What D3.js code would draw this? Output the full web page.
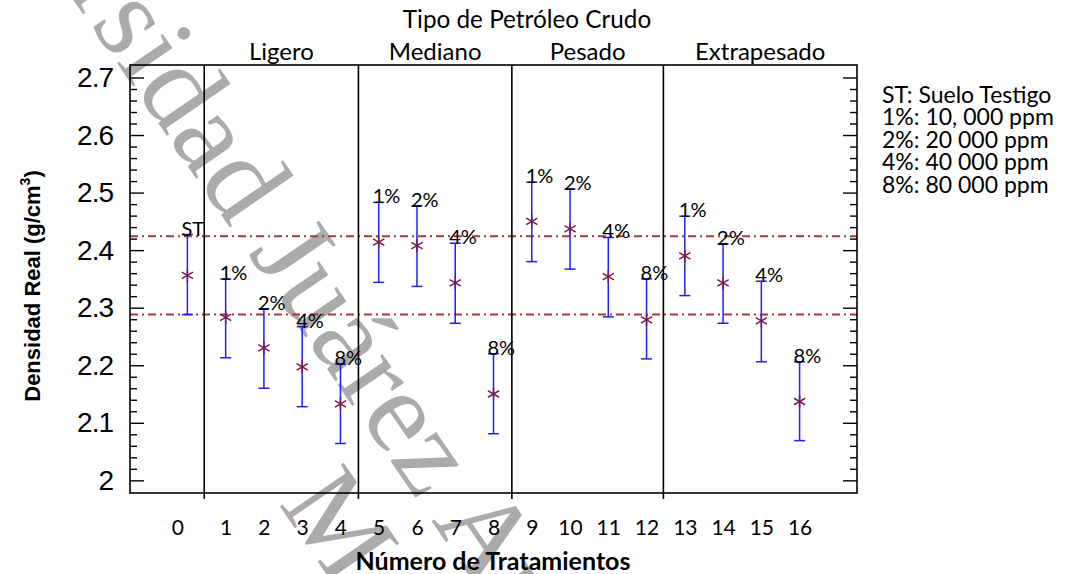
<!DOCTYPE html>
<html>
<head>
<meta charset="utf-8">
<script src="https://cdn.jsdelivr.net/npm/d3@7"></script>
<style>
  body { margin: 0; background: #fff; }
  svg { display: block; }
</style>
</head>
<body>
<svg id="chart" width="1067" height="574"></svg>
<script>
// Treatment numbers (0 = control soil) and real density summary per treatment
const treatments = [0, 1, 2, 3, 4, 5, 6, 7, 8, 9, 10, 11, 12, 13, 14, 15, 16];
const meanDensity  = [2.356, 2.283, 2.230, 2.197, 2.133, 2.414, 2.408, 2.343, 2.150,
                      2.450, 2.437, 2.354, 2.279, 2.390, 2.343, 2.277, 2.137];
const lowerDensity = [2.288, 2.213, 2.160, 2.128, 2.064, 2.344, 2.337, 2.273, 2.081,
                      2.380, 2.367, 2.284, 2.211, 2.321, 2.273, 2.206, 2.069];
const upperDensity = [2.427, 2.350, 2.298, 2.267, 2.202, 2.483, 2.477, 2.412, 2.220,
                      2.518, 2.506, 2.422, 2.350, 2.459, 2.411, 2.346, 2.206];
const doseLabels = ["ST", "1%", "2%", "4%", "8%", "1%", "2%", "4%", "8%",
                    "1%", "2%", "4%", "8%", "1%", "2%", "4%", "8%"];

// Crude oil type panels and the treatment positions that separate them
const crudeTypes = ["Ligero", "Mediano", "Pesado", "Extrapesado"];
const crudeDividers = [0.44, 4.47, 8.48, 12.44];

// Control soil interval limits drawn across the whole plot
const controlLimits = [2.424, 2.288];

const yTickValues = [2.0, 2.1, 2.2, 2.3, 2.4, 2.5, 2.6, 2.7];
const yMinorValues = [2.02, 2.04, 2.06, 2.08, 2.12, 2.14, 2.16, 2.18, 2.22, 2.24, 2.26, 2.28,
                      2.32, 2.34, 2.36, 2.38, 2.42, 2.44, 2.46, 2.48, 2.52, 2.54, 2.56, 2.58,
                      2.62, 2.64, 2.66, 2.68];

const legendLines = ["ST: Suelo Testigo", "1%: 10, 000 ppm", "2%: 20 000 ppm",
                     "4%: 40 000 ppm", "8%: 80 000 ppm"];

const svg = d3.select("#chart");
const frame = { left: 130, right: 857, top: 65, bottom: 493 };
const calibri = "Lato, 'Open Sans', sans-serif";
const arial = "'Liberation Sans', Arial, sans-serif";

const x = d3.scaleLinear().domain([-1.5, 17.5]).range([frame.left, frame.right]);
const y = d3.scaleLinear().domain([1.978, 2.7217]).range([frame.bottom, frame.top]);

svg.append("rect").attr("width", 1067).attr("height", 574).attr("fill", "#fff");

// Institutional watermark behind the chart (diagonal, two lines)
const wmSize = 118;
const wm = svg.append("g").attr("fill", "#ababab")
  .attr("font-family", "'Liberation Serif', 'Times New Roman', serif")
  .attr("font-size", wmSize)
  .attr("transform", "translate(125,27) rotate(55.5)");
const wmWords = "Universidad Juárez Autónoma";
const wmText = wm.append("text").text(wmWords);
const sIndex = wmWords.indexOf("sidad");
const sStart = wmText.node().getSubStringLength(0, sIndex);
const sWidth = wmText.node().getSubStringLength(sIndex, 1);
wmText.attr("x", -(sStart + sWidth / 2)).attr("y", 0.23 * wmSize);
const wmM = wm.append("text").attr("y", 105 + 0.33 * wmSize).text("M");
wmM.attr("x", 532 - wmM.node().getComputedTextLength() / 2);

// Control limits
svg.append("g").selectAll("line").data(controlLimits).join("line")
  .attr("x1", frame.left).attr("x2", frame.right)
  .attr("y1", d => y(d)).attr("y2", d => y(d))
  .attr("stroke", "#a83a3a").attr("stroke-width", 2)
  .attr("stroke-dasharray", "8,4,2,4");

// Panel dividers
svg.append("g").selectAll("line").data(crudeDividers).join("line")
  .attr("x1", d => x(d)).attr("x2", d => x(d))
  .attr("y1", frame.top).attr("y2", frame.bottom + 6)
  .attr("stroke", "#000").attr("stroke-width", 1.6);

// Frame
svg.append("rect")
  .attr("x", frame.left).attr("y", frame.top)
  .attr("width", frame.right - frame.left).attr("height", frame.bottom - frame.top)
  .attr("fill", "none").attr("stroke", "#000").attr("stroke-width", 1.6);

// Y axes: major ticks with labels, minor ticks, mirrored on the right
function styleAxis(g) {
  g.select(".domain").remove();
  g.selectAll(".tick line").attr("stroke", "#000").attr("stroke-width", 1.4);
}
svg.append("g").attr("transform", `translate(${frame.left},0)`)
  .call(d3.axisLeft(y).tickValues(yTickValues).tickSize(-14).tickPadding(17)
    .tickFormat(d3.format("~g")))
  .call(styleAxis)
  .call(g => g.selectAll(".tick text")
    .attr("font-family", arial).attr("font-size", 28)
    .attr("letter-spacing", -1).attr("fill", "#000"));
svg.append("g").attr("transform", `translate(${frame.left},0)`)
  .call(d3.axisLeft(y).tickValues(yMinorValues).tickSize(-7).tickFormat(""))
  .call(styleAxis);
svg.append("g").attr("transform", `translate(${frame.right},0)`)
  .call(d3.axisRight(y).tickValues(yTickValues).tickSize(-14).tickFormat(""))
  .call(styleAxis);
svg.append("g").attr("transform", `translate(${frame.right},0)`)
  .call(d3.axisRight(y).tickValues(yMinorValues).tickSize(-7).tickFormat(""))
  .call(styleAxis);

// X axis labels (treatment numbers)
svg.append("g").attr("transform", `translate(0,${frame.bottom})`)
  .call(d3.axisBottom(x).tickValues(treatments).tickSize(0).tickPadding(27)
    .tickFormat(d3.format("d")))
  .call(g => g.select(".domain").remove())
  .call(g => g.selectAll(".tick text")
    .attr("font-family", calibri).attr("font-size", 21).attr("fill", "#000")
    .attr("dx", d => d === 0 ? -10 : 0));

// Error bars
const bars = svg.append("g").attr("stroke", "#1f1fff").attr("stroke-width", 1.5);
bars.selectAll("line.v").data(treatments).join("line").attr("class", "v")
  .attr("x1", d => x(d)).attr("x2", d => x(d))
  .attr("y1", (d, i) => y(upperDensity[i])).attr("y2", (d, i) => y(lowerDensity[i]));
bars.selectAll("line.cu").data(treatments).join("line").attr("class", "cu")
  .attr("x1", d => x(d) - 5.5).attr("x2", d => x(d) + 5.5)
  .attr("y1", (d, i) => y(upperDensity[i])).attr("y2", (d, i) => y(upperDensity[i]));
bars.selectAll("line.cl").data(treatments).join("line").attr("class", "cl")
  .attr("x1", d => x(d) - 5.5).attr("x2", d => x(d) + 5.5)
  .attr("y1", (d, i) => y(lowerDensity[i])).attr("y2", (d, i) => y(lowerDensity[i]));

// Asterisk markers at the mean
const star = "M0,-6.5L0,6.5M-5.6,-3.25L5.6,3.25M-5.6,3.25L5.6,-3.25";
svg.append("g").selectAll("path").data(treatments).join("path")
  .attr("transform", (d, i) => `translate(${x(d)},${y(meanDensity[i])})`)
  .attr("d", star).attr("stroke", "#7a1a55").attr("stroke-width", 1.5).attr("fill", "none");

// Dose labels above each bar
svg.append("g").selectAll("text").data(treatments).join("text")
  .attr("x", d => x(d) - 6)
  .attr("y", (d, i) => y(upperDensity[i]) + 1)
  .attr("font-family", calibri).attr("font-size", 20).attr("fill", "#000")
  .text((d, i) => doseLabels[i]);

// Panel titles
const panelEdges = [...crudeDividers, 17.5];
svg.append("g").selectAll("text").data(crudeTypes).join("text")
  .attr("x", (d, i) => x((panelEdges[i] + panelEdges[i + 1]) / 2))
  .attr("y", 60)
  .attr("text-anchor", "middle")
  .attr("font-family", calibri).attr("font-size", 24).attr("fill", "#000")
  .text(d => d);

svg.append("text")
  .attr("x", 527).attr("y", 28)
  .attr("text-anchor", "middle")
  .attr("font-family", calibri).attr("font-size", 24.3).attr("fill", "#000")
  .text("Tipo de Petróleo Crudo");

// Axis titles
svg.append("text")
  .attr("x", 493).attr("y", 570)
  .attr("text-anchor", "middle")
  .attr("font-family", calibri).attr("font-weight", "bold").attr("font-size", 25).attr("fill", "#000")
  .text("Número de Tratamientos");

const yTitle = svg.append("text")
  .attr("transform", "translate(40,286) rotate(-90)")
  .attr("text-anchor", "middle")
  .attr("font-family", arial).attr("font-weight", "bold").attr("font-size", 22).attr("fill", "#000");
yTitle.append("tspan").text("Densidad Real (g/cm");
yTitle.append("tspan").attr("font-size", 14).attr("dy", -10).text("3");
yTitle.append("tspan").attr("dy", 10).text(")");

// Dose key
svg.append("g").selectAll("text").data(legendLines).join("text")
  .attr("x", 882)
  .attr("y", (d, i) => 102.5 + i * 22.5)
  .attr("font-family", calibri).attr("font-size", 23).attr("fill", "#000")
  .text(d => d);
</script>
</body>
</html>
